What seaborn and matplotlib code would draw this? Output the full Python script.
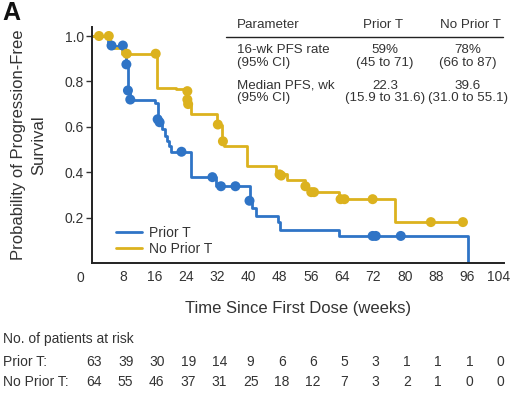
"""Kaplan-Meier PFS curves by prior T therapy, with summary and at-risk tables."""

import matplotlib.pyplot as plt
import matplotlib.transforms as mtransforms
import pandas as pd
import seaborn as sns


# step curves: time (weeks) and survival after each step
PRIOR_TIME = [0, 4.0, 8.4, 8.8, 9.2, 9.6, 16.2, 16.8, 17.3, 17.8, 18.6, 19.3,
              19.8, 20.3, 25.4, 31.7, 40.5, 40.9, 41.9, 47.5, 48.2, 63.3, 96.2]
PRIOR_SURV = [1.0, 0.958, 0.93, 0.875, 0.76, 0.72, 0.705, 0.633, 0.62, 0.59,
              0.56, 0.536, 0.515, 0.49, 0.378, 0.338, 0.274, 0.24, 0.207,
              0.18, 0.145, 0.119, 0.0]
NOPRIOR_TIME = [0, 4.5, 7.6, 16.6, 21.5, 24.4, 24.6, 25.4, 31.9, 33.3, 33.9,
                39.7, 47.0, 50.0, 54.5, 55.3, 63.1, 77.4, 94.9]
NOPRIOR_SURV = [1.0, 0.945, 0.922, 0.773, 0.765, 0.72, 0.70, 0.655, 0.61,
                0.536, 0.515, 0.427, 0.39, 0.365, 0.338, 0.312, 0.281, 0.18,
                0.18]

# censor marks
PRIOR_CENS_TIME = [5.0, 7.9, 8.8, 9.2, 9.8, 16.8, 17.3, 22.9, 30.8, 33.0,
                   36.7, 40.3, 71.8, 72.6, 79.0]
PRIOR_CENS_SURV = [0.958, 0.958, 0.875, 0.76, 0.72, 0.633, 0.62, 0.49, 0.378,
                   0.338, 0.338, 0.274, 0.119, 0.119, 0.119]
NOPRIOR_CENS_TIME = [1.8, 4.3, 8.9, 16.3, 24.4, 24.4, 24.6, 32.2, 33.5, 48.0,
                     48.4, 54.6, 56.1, 56.8, 63.6, 64.6, 71.8, 86.7, 94.9]
NOPRIOR_CENS_SURV = [1.0, 1.0, 0.922, 0.922, 0.757, 0.72, 0.70, 0.61, 0.536,
                     0.39, 0.385, 0.338, 0.312, 0.312, 0.281, 0.281, 0.281,
                     0.18, 0.18]

GROUPS = ["Prior T", "No Prior T"]
COLORS = {"Prior T": "#2f74c6", "No Prior T": "#dcb21e"}

RISK_TIMES = [0, 8, 16, 24, 32, 40, 48, 56, 64, 72, 80, 88, 96, 104]
RISK_PRIOR = [63, 39, 30, 19, 14, 9, 6, 6, 5, 3, 1, 1, 1, 0]
RISK_NOPRIOR = [64, 55, 46, 37, 31, 25, 18, 12, 7, 3, 2, 1, 0, 0]

TABLE_HEADER = ["Parameter", "Prior T", "No Prior T"]
TABLE_ROWS = [
    ["16-wk PFS rate\n(95% CI)", "59%\n(45 to 71)", "78%\n(66 to 87)"],
    ["Median PFS, wk\n(95% CI)", "22.3\n(15.9 to 31.6)", "39.6\n(31.0 to 55.1)"],
]

TEXT = "#333333"


def main():
    sns.set_theme(style="white")
    plt.rcParams["font.family"] = ["Liberation Sans", "DejaVu Sans"]
    plt.rcParams["text.color"] = TEXT

    curves = pd.concat([
        pd.DataFrame({"time": PRIOR_TIME, "surv": PRIOR_SURV, "group": "Prior T"}),
        pd.DataFrame({"time": NOPRIOR_TIME, "surv": NOPRIOR_SURV,
                      "group": "No Prior T"}),
    ], ignore_index=True)
    censors = pd.concat([
        pd.DataFrame({"time": PRIOR_CENS_TIME, "surv": PRIOR_CENS_SURV,
                      "group": "Prior T"}),
        pd.DataFrame({"time": NOPRIOR_CENS_TIME, "surv": NOPRIOR_CENS_SURV,
                      "group": "No Prior T"}),
    ], ignore_index=True)

    fig = plt.figure(figsize=(5.15, 3.96), dpi=100)
    ax = fig.add_axes([0.1786, 0.336, 0.8, 0.596])

    sns.lineplot(data=curves, x="time", y="surv", hue="group",
                 hue_order=GROUPS, palette=COLORS, estimator=None,
                 drawstyle="steps-post", linewidth=2.0, ax=ax)
    sns.scatterplot(data=censors, x="time", y="surv", hue="group",
                    hue_order=GROUPS, palette=COLORS, s=52, linewidth=0,
                    legend=False, zorder=3, ax=ax)

    ax.set_xlim(0, 105.4)
    ax.set_ylim(0, 1.04)
    ax.set_xticks(RISK_TIMES[1:])
    ax.set_yticks([0.2, 0.4, 0.6, 0.8, 1.0])
    ax.set_yticklabels(["0.2", "0.4", "0.6", "0.8", "1.0"])
    ax.tick_params(axis="x", length=0, labelsize=10, colors=TEXT, pad=5)
    ax.tick_params(axis="y", length=4, width=1, labelsize=10, colors=TEXT,
                   left=True, pad=2)
    for side in ["top", "right"]:
        ax.spines[side].set_visible(False)
    for side in ["left", "bottom"]:
        ax.spines[side].set_color("#222222")
        ax.spines[side].set_linewidth(1.4)

    ax.text(-0.018, -0.035, "0", transform=ax.transAxes, ha="right",
            va="top", fontsize=10, color=TEXT)

    ax.set_xlabel("Time Since First Dose (weeks)", fontsize=12, labelpad=12,
                  color=TEXT)
    ax.set_ylabel("Probability of Progression-Free\nSurvival", fontsize=12,
                  labelpad=13, color=TEXT, linespacing=1.45)

    handles, labels = ax.get_legend_handles_labels()
    ax.legend(handles, labels, loc="lower left", bbox_to_anchor=(0.045, 0.005),
              frameon=False, fontsize=10, handlelength=1.9,
              handletextpad=0.5, labelspacing=0.15, borderaxespad=0)

    fig.text(0.004, 0.998, "A", fontsize=18, fontweight="bold", va="top",
             ha="left", color="#111111")

    # summary table in the upper right
    fy = lambda px: 1 - px / 396
    fx = lambda px: px / 515
    fig.text(fx(237), fy(25), TABLE_HEADER[0], fontsize=9.6, va="center")
    fig.text(fx(383), fy(25), TABLE_HEADER[1], fontsize=9.6, va="center",
             ha="center")
    fig.text(fx(471), fy(25), TABLE_HEADER[2], fontsize=9.6, va="center",
             ha="center")
    fig.add_artist(plt.Line2D([fx(226), fx(503)], [fy(37), fy(37)],
                              color="#222222", linewidth=1.0))
    for row, y in zip(TABLE_ROWS, [56.5, 92]):
        fig.text(fx(237), fy(y), row[0], fontsize=9.6, va="center",
                 linespacing=1.1)
        fig.text(fx(385), fy(y), row[1], fontsize=9.6, va="center",
                 ha="center", linespacing=1.1)
        fig.text(fx(468), fy(y), row[2], fontsize=9.6, va="center",
                 ha="center", linespacing=1.1)

    # patients at risk
    blend = mtransforms.blended_transform_factory(ax.transData, fig.transFigure)
    fig.text(fx(3), fy(339), "No. of patients at risk", fontsize=10,
             va="center")
    fig.text(fx(3), fy(362), "Prior T:", fontsize=10, va="center")
    fig.text(fx(3), fy(382), "No Prior T:", fontsize=10, va="center")
    for t, n1, n2 in zip(RISK_TIMES, RISK_PRIOR, RISK_NOPRIOR):
        ax.text(t + 0.6, fy(362), str(n1), transform=blend, fontsize=10,
                ha="center", va="center", clip_on=False)
        ax.text(t + 0.6, fy(382), str(n2), transform=blend, fontsize=10,
                ha="center", va="center", clip_on=False)

    fig.savefig("out.png", dpi=100)
    plt.close(fig)


if __name__ == "__main__":
    main()
